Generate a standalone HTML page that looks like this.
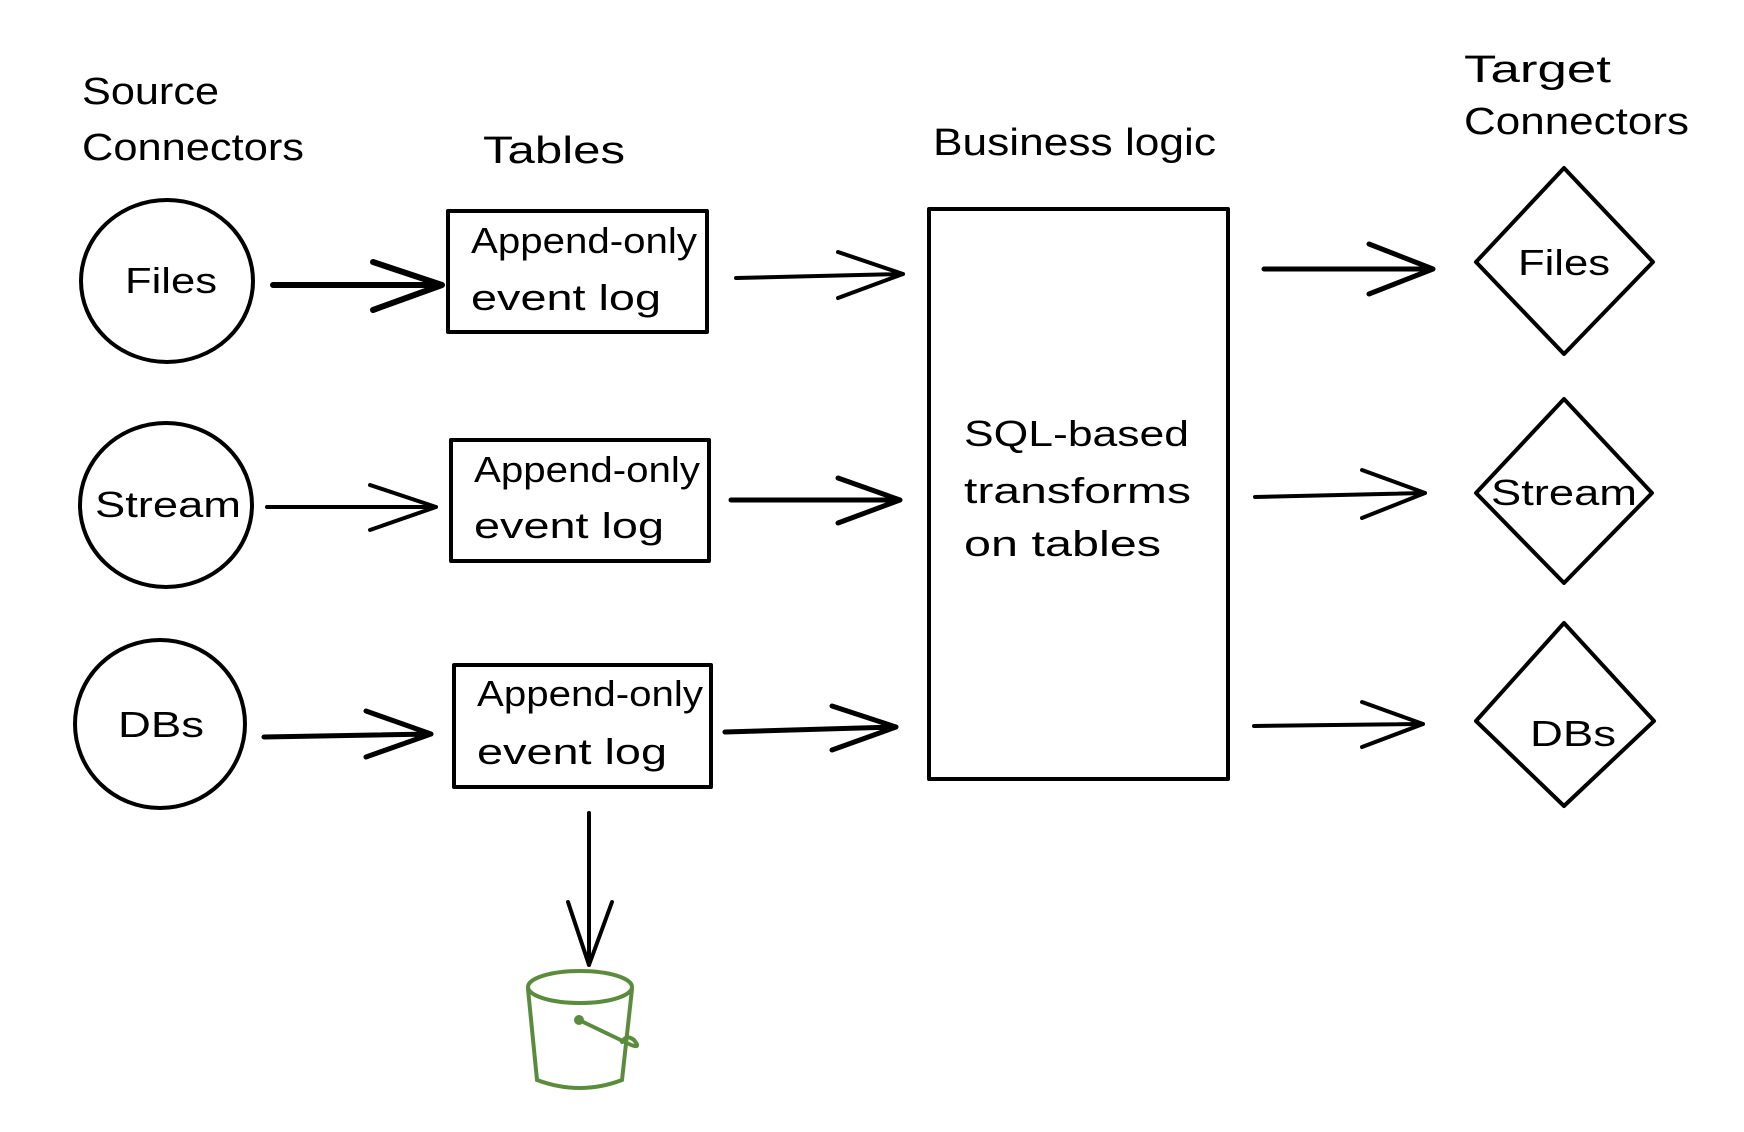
<!DOCTYPE html>
<html><head><meta charset="utf-8"><style>html,body{margin:0;padding:0;background:#fff}svg{display:block}</style></head>
<body>
<svg width="1744" height="1132" viewBox="0 0 1744 1132" xmlns="http://www.w3.org/2000/svg" font-family="'Liberation Sans', sans-serif" fill="#000">
<rect width="1744" height="1132" fill="#fff"/>
<g font-size="38">
<text x="82" y="104" textLength="137" lengthAdjust="spacingAndGlyphs">Source</text>
<text x="82" y="160" textLength="222" lengthAdjust="spacingAndGlyphs">Connectors</text>
<text x="483" y="163" textLength="142" lengthAdjust="spacingAndGlyphs">Tables</text>
<text x="933" y="155" textLength="283" lengthAdjust="spacingAndGlyphs">Business logic</text>
<text x="1464" y="82" textLength="147" lengthAdjust="spacingAndGlyphs">Target</text>
<text x="1464" y="134" textLength="225" lengthAdjust="spacingAndGlyphs">Connectors</text>
</g>
<g fill="none" stroke="#000" stroke-width="4" stroke-linecap="round" stroke-linejoin="round">
<ellipse cx="167" cy="281" rx="86" ry="81"/>
<ellipse cx="166" cy="505" rx="86" ry="82"/>
<ellipse cx="160" cy="724" rx="85" ry="84"/>
<rect x="448" y="211" width="259" height="121"/>
<rect x="451" y="440" width="258" height="121"/>
<rect x="454" y="665" width="257" height="122"/>
<rect x="929" y="209" width="299" height="570"/>
<polygon points="1564,168 1653,262 1564,354 1476,262"/>
<polygon points="1564,399 1652,493 1564,583 1476,493"/>
<polygon points="1564,623 1654,721 1564,806 1476,721"/>
<!-- arrows -->
<path d="M273 285 L442 285 M373 262 L442 285 L373 310" stroke-width="6"/>
<path d="M267 507 L436 507 M370 485 L436 507 L370 530"/>
<path d="M264 737 L431 734 M366 711 L431 734 L366 757" stroke-width="5"/>
<path d="M736 278 L903 274 M838 252 L903 274 L838 298"/>
<path d="M731 500 L900 500 M838 478 L900 500 L838 523" stroke-width="5"/>
<path d="M725 732 L896 727 M832 706 L896 727 L832 750" stroke-width="5"/>
<path d="M1264 269 L1433 269 M1369 244 L1433 269 L1369 294" stroke-width="5"/>
<path d="M1255 497 L1425 493 M1362 470 L1425 493 L1362 518"/>
<path d="M1254 726 L1423 724 M1362 702 L1423 724 L1362 747"/>
<path d="M589 813 L589 965 M568 902 L589 965 L612 902"/>
</g>
<g font-size="36">
<text x="125" y="293" textLength="92" lengthAdjust="spacingAndGlyphs">Files</text>
<text x="95" y="517" textLength="146" lengthAdjust="spacingAndGlyphs">Stream</text>
<text x="118" y="737" textLength="86" lengthAdjust="spacingAndGlyphs">DBs</text>
<text x="1518" y="275" textLength="92" lengthAdjust="spacingAndGlyphs">Files</text>
<text x="1491" y="505" textLength="146" lengthAdjust="spacingAndGlyphs">Stream</text>
<text x="1530" y="746" textLength="86" lengthAdjust="spacingAndGlyphs">DBs</text>
<text x="471" y="253" textLength="226" lengthAdjust="spacingAndGlyphs">Append-only</text>
<text x="471" y="310" textLength="190" lengthAdjust="spacingAndGlyphs">event log</text>
<text x="474" y="482" textLength="226" lengthAdjust="spacingAndGlyphs">Append-only</text>
<text x="474" y="538" textLength="190" lengthAdjust="spacingAndGlyphs">event log</text>
<text x="477" y="706" textLength="226" lengthAdjust="spacingAndGlyphs">Append-only</text>
<text x="477" y="764" textLength="190" lengthAdjust="spacingAndGlyphs">event log</text>
<text x="964" y="446" textLength="225" lengthAdjust="spacingAndGlyphs">SQL-based</text>
<text x="964" y="503" textLength="227" lengthAdjust="spacingAndGlyphs">transforms</text>
<text x="964" y="556" textLength="197" lengthAdjust="spacingAndGlyphs">on tables</text>
</g>
<g fill="none" stroke="#5b8c3e" stroke-width="4" stroke-linecap="round">
<ellipse cx="580" cy="987" rx="52" ry="16"/>
<path d="M528 989 L537 1080 Q580 1096 622 1080 L632 989"/>
<path d="M579 1020 L629 1044 Q642 1050 634 1040 Q626 1034 622 1042"/>
<circle cx="579" cy="1020" r="3" fill="#5b8c3e"/>
</g>
</svg>
</body></html>
